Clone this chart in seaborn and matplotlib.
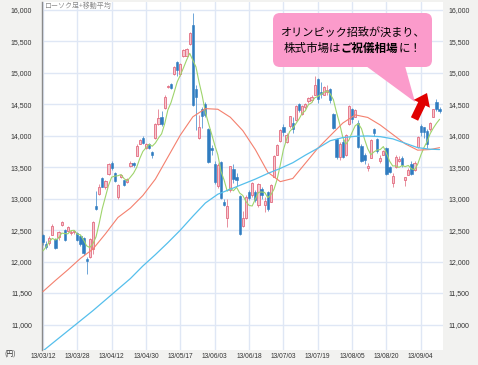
import matplotlib
matplotlib.use("Agg")
import matplotlib.pyplot as plt
import matplotlib.patches as mpatches
from matplotlib.transforms import IdentityTransform
import numpy as np
import pandas as pd
import seaborn as sns

# =========================
# Data (Nikkei daily, 13/03/12 - 13/09/12)
# =========================
tick_idx = [0, 11, 22, 33, 44, 55, 66, 77, 88, 99, 110, 121]
tick_labels = ["13/03/12", "13/03/28", "13/04/12", "13/04/30", "13/05/17", "13/06/03",
               "13/06/18", "13/07/03", "13/07/19", "13/08/05", "13/08/20", "13/09/04"]
price_ticks = [11000, 11500, 12000, 12500, 13000, 13500, 14000, 14500, 15000, 15500, 16000]

opens = [
    12425, 12280, 12300, 12430, 12360, 12390, 12585, 12500, 12490, 12450,
    12470, 12450, 12410, 12370, 12040, 12070, 12200, 12880, 13070, 13320,
    13180, 13390, 13567, 13400, 13020, 13338, 13290, 13260, 13525, 13560,
    13683, 13870, 13966, 13800, 13860, 13745, 13966, 14188, 14300, 14443,
    14770, 14820, 14973, 15169, 14985, 15260, 15270, 15451, 15753, 14745,
    13960, 14420, 14510, 14100, 13810, 13556, 13200, 13577, 12940, 12700,
    13130, 13470, 13350, 13048, 12570, 12690, 13100, 13050, 13100, 12900,
    13150, 12900, 13100, 12950, 13350, 13700, 13920, 14140, 13900, 14150,
    14200, 14250, 14500, 14350, 14450, 14550, 14560, 14650, 14900, 14700,
    14650, 14700, 14740, 14350, 13950, 13660, 13900, 13700, 14190, 14420,
    14300, 14200, 13840, 13700, 13480, 13650, 14100, 13950, 13600, 13700,
    13800, 13500, 13250, 13500, 13600, 13650, 13300, 13380, 13550, 13450,
    13820, 14150, 14134, 14080, 14100, 14300, 14540, 14420,
]
highs = [
    12440, 12330, 12400, 12600, 12380, 12480, 12650, 12520, 12560, 12500,
    12500, 12470, 12430, 12390, 12070, 12380, 12650, 13120, 13230, 13340,
    13300, 13560, 13590, 13420, 13230, 13390, 13300, 13330, 13590, 13580,
    13860, 13950, 13990, 13880, 13880, 13760, 14200, 14420, 14400, 14640,
    14810, 14830, 15110, 15180, 15150, 15380, 15400, 15650, 15942, 14800,
    14330, 14450, 14540, 14120, 13850, 13600, 13560, 13600, 12990, 13000,
    13520, 13550, 13400, 13060, 12800, 13050, 13130, 13270, 13130, 13250,
    13180, 13020, 13120, 13230, 13690, 13870, 14110, 14180, 14050, 14320,
    14300, 14480, 14520, 14490, 14520, 14620, 14640, 14953, 14920, 14850,
    14790, 14800, 14760, 14360, 13960, 13900, 13950, 14020, 14480, 14440,
    14420, 14250, 13870, 13720, 13560, 13940, 14120, 13960, 13700, 13780,
    13820, 13520, 13400, 13700, 13680, 13670, 13350, 13480, 13600, 13590,
    13990, 14180, 14140, 14100, 14220, 14430, 14590, 14450,
]
lows = [
    12270, 12200, 12260, 12420, 12200, 12350, 12570, 12320, 12470, 12430,
    12440, 12320, 12240, 12110, 11800, 12050, 12120, 12820, 13060, 13180,
    13150, 13380, 13460, 13260, 13000, 13320, 13200, 13250, 13510, 13510,
    13670, 13860, 13870, 13790, 13790, 13640, 13950, 14170, 14150, 14430,
    14760, 14740, 14960, 14950, 14950, 15250, 15260, 15440, 14470, 14090,
    13950, 14130, 14300, 13560, 13700, 13230, 13170, 13000, 12880, 12548,
    13100, 13250, 13200, 12415, 12550, 12680, 12980, 13030, 12950, 12870,
    13000, 12780, 12800, 12940, 13340, 13690, 13900, 14000, 13890, 14130,
    14050, 14240, 14380, 14330, 14420, 14520, 14540, 14640, 14520, 14600,
    14640, 14650, 14520, 14100, 13630, 13620, 13650, 13680, 14170, 14200,
    14290, 13800, 13580, 13550, 13440, 13640, 14000, 13730, 13560, 13690,
    13380, 13400, 13188, 13490, 13580, 13500, 13200, 13370, 13370, 13440,
    13800, 14000, 13970, 13800, 14080, 14290, 14390, 14360,
]
closes = [
    12314, 12239, 12381, 12560, 12220, 12468, 12635, 12338, 12546, 12471,
    12493, 12336, 12280, 12135, 12003, 12362, 12634, 12833, 13192, 13192,
    13288, 13549, 13485, 13275, 13221, 13382, 13220, 13316, 13568, 13529,
    13843, 13926, 13884, 13860, 13799, 13694, 14180, 14285, 14191, 14607,
    14782, 14758, 15096, 15037, 15138, 15360, 15381, 15627, 14483, 14612,
    14142, 14311, 14326, 13589, 13774, 13261, 13533, 13014, 12904, 12877,
    13514, 13317, 13289, 12445, 12686, 13033, 13007, 13245, 12986, 13230,
    13062, 12969, 12834, 13213, 13677, 13852, 14098, 14055, 14018, 14309,
    14109, 14473, 14416, 14472, 14506, 14599, 14615, 14808, 14589, 14658,
    14778, 14731, 14562, 14129, 13661, 13869, 13668, 14005, 14466, 14258,
    14401, 13824, 13605, 13615, 13519, 13925, 14050, 13752, 13650, 13758,
    13396, 13424, 13366, 13660, 13636, 13542, 13338, 13459, 13389, 13572,
    13978, 14053, 14065, 13860, 14205, 14423, 14425, 14387,
]
# closes of the 4 sessions before 13/03/12 (for the 5-day average)
pre_closes = [11932, 11968, 12283, 12349]

# 25-day and 75-day averages
ma25_idx = [0, 4, 8, 12, 16, 20, 24, 28, 32, 36, 40, 44, 48, 52, 56, 60, 64, 68,
            72, 76, 80, 84, 88, 92, 96, 100, 104, 108, 112, 116, 120, 124, 127]
ma25_vals = [11523, 11700, 11870, 12050, 12198, 12440, 12700, 12850, 13050, 13310,
             13660, 14010, 14300, 14430, 14420, 14293, 14080, 13780, 13420, 13270,
             13320, 13560, 13800, 14000, 14200, 14330, 14290, 14170, 14020, 13870,
             13770, 13780, 13810]
ma75_idx = ma25_idx
ma75_vals = [10580, 10740, 10900, 11060, 11220, 11390, 11560, 11730, 11930, 12110,
             12300, 12500, 12720, 12930, 13070, 13150, 13230, 13310, 13400, 13480,
             13570, 13690, 13800, 13920, 13970, 13990, 13995, 13985, 13950, 13880,
             13810, 13785, 13780]

# =========================
# Frame
# =========================
df = pd.DataFrame({"open": opens, "high": highs, "low": lows, "close": closes})
df["idx"] = np.arange(len(df))
df["up"] = df["close"] >= df["open"]

ma5 = pd.Series(pre_closes + closes).rolling(5).mean().iloc[len(pre_closes):].to_numpy()

# =========================
# Plot
# =========================
sns.set_style("white")
plt.rcParams["font.family"] = ["Liberation Sans", "Noto Sans CJK JP", "DejaVu Sans"]

W, H = 478, 365
fig = plt.figure(figsize=(W / 100, H / 100), dpi=100, facecolor="#f2f2f0")
ax = fig.add_axes([42 / W, 15 / H, 401 / W, 348 / H])
ax.set_facecolor("white")

ylim = (10595, 16124)
ax.set_xlim(-0.3, 128.1)
ax.set_ylim(*ylim)

ax.set_xticks(tick_idx)
ax.set_xticklabels(tick_labels, fontsize=4.8, color="#333333")
ax.set_yticks(price_ticks)
ax.set_yticklabels([f"{v:,}" for v in price_ticks], fontsize=5, color="#333333")
ax.tick_params(axis="both", length=0)
ax.tick_params(axis="y", pad=7)
ax.tick_params(axis="x", pad=2)
ax.grid(True, color="#dfe7f5", linewidth=1)
ax.set_axisbelow(True)
for s in ["top", "right", "bottom"]:
    ax.spines[s].set_visible(False)
ax.spines["left"].set_color("#8a8a8a")
ax.spines["left"].set_linewidth(1)

# candles
pink_fill, pink_edge = "#f6c6ce", "#e36c80"
blue_fill = "#2f7cc0"
up = df[df["up"]]
dn = df[~df["up"]]
ax.vlines(up["idx"], up["low"], up["high"], color="#e8909e", linewidth=0.7, zorder=2)
ax.vlines(dn["idx"], dn["low"], dn["high"], color="#6ea6d8", linewidth=0.7, zorder=2)
ax.bar(up["idx"], (up["close"] - up["open"]).clip(lower=12), bottom=up["open"],
       width=0.72, color=pink_fill, edgecolor=pink_edge, linewidth=0.6, zorder=3)
ax.bar(dn["idx"], (dn["open"] - dn["close"]).clip(lower=12), bottom=dn["close"],
       width=0.72, color=blue_fill, edgecolor=blue_fill, linewidth=0.4, zorder=3)

# moving averages
sns.lineplot(x=df["idx"], y=ma5, ax=ax, color="#9fd46c", linewidth=0.8, zorder=4)
sns.lineplot(x=ma25_idx, y=ma25_vals, ax=ax, color="#f4806e", linewidth=0.8, zorder=4)
sns.lineplot(x=ma75_idx, y=ma75_vals, ax=ax, color="#55bfec", linewidth=0.9, zorder=4)
ax.set_xlabel("")
ax.set_ylabel("")

# right price labels
ax2 = ax.twinx()
ax2.set_ylim(*ylim)
ax2.set_yticks(price_ticks)
ax2.set_yticklabels([f"{v:,}" for v in price_ticks], fontsize=5, color="#333333")
ax2.tick_params(axis="y", length=0, pad=4)
ax2.grid(False)
for s in ax2.spines.values():
    s.set_visible(False)

ax.text(0.005, 0.988, "ローソク足+移動平均", transform=ax.transAxes, fontsize=5,
        color="#8a8a8a", va="center", ha="left", family=["Noto Sans CJK JP"])
fig.text(10 / W, 1 - 355 / H, "(円)", fontsize=5, color="#333333",
         ha="center", va="center", family=["Noto Sans CJK JP", "DejaVu Sans"])

# =========================
# Callout
# =========================
pink = "#fb9bcb"
bx0, bx1, by0, by1 = 273, 432, 13, 67
box = mpatches.FancyBboxPatch((bx0 + 7, H - by1 + 7), (bx1 - bx0) - 14, (by1 - by0) - 14,
                              boxstyle="round,pad=7", facecolor=pink, edgecolor="none",
                              transform=IdentityTransform(), zorder=10)
fig.add_artist(box)
tail = mpatches.Polygon([(366, H - 66), (405, H - 66), (415, H - 102)], closed=True,
                        facecolor=pink, edgecolor="none", transform=IdentityTransform(),
                        zorder=10)
fig.add_artist(tail)

cx = (bx0 + bx1) / 2
fig.text(cx / W, 1 - 32 / H, "オリンピック招致が決まり、", fontsize=8, ha="center",
         va="center", color="black", family=["Noto Sans CJK JP"], zorder=11)
parts = [("株式市場は", "normal"), ("ご祝儀相場", "bold"), ("に！", "normal")]
texts = [fig.text(0, 1 - 48.5 / H, s, fontsize=8.3, fontweight=w, ha="left", va="center",
                  color="black", family=["Noto Sans CJK JP"], zorder=11) for s, w in parts]
fig.canvas.draw()
renderer = fig.canvas.get_renderer()
widths = [t.get_window_extent(renderer).width for t in texts]
x = cx - sum(widths) / 2
for t, w in zip(texts, widths):
    t.set_x(x / W)
    x += w

arrow = mpatches.FancyArrow(414.5, H - 119, 12.5, 26, width=8, head_width=18,
                            head_length=12, length_includes_head=True,
                            facecolor="#e00000", edgecolor="none",
                            transform=IdentityTransform(), zorder=11)
fig.add_artist(arrow)

fig.savefig("out.png", dpi=100, facecolor=fig.get_facecolor())
